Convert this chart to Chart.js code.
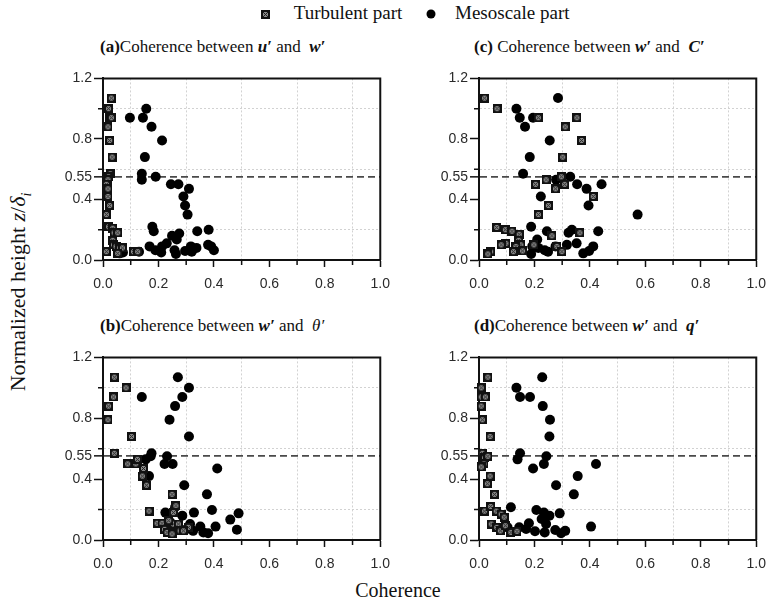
<!DOCTYPE html>
<html>
<head>
<meta charset="utf-8">
<script src="https://cdn.jsdelivr.net/npm/chart.js@4.4.1/dist/chart.umd.min.js"></script>
<style>
  body { margin: 0; background: #fff; }
  #wrap { position: relative; width: 774px; height: 611px; overflow: hidden; font-family: 'Liberation Serif', 'DejaVu Serif', serif; color: #111; }
  canvas.panel { position: absolute; }
  .title { position: absolute; font-size: 17px; white-space: nowrap; }
  .title b.v { font-style: italic; }
  #legend { position: absolute; top: 2px; left: 261px; font-size: 19px; white-space: nowrap; }
  #legend canvas { vertical-align: 0px; }
  #ytitle { position: absolute; left: 20px; top: 292px; transform: translate(-50%, -50%) rotate(-90deg); font-size: 22px; white-space: nowrap; }
  #xtitle { position: absolute; left: 398px; top: 579px; transform: translateX(-50%); font-size: 20px; }
</style>
</head>
<body>
<div id="wrap">
  <div id="legend">
    <canvas id="legSq" width="9" height="9"></canvas>&nbsp;&nbsp;&nbsp;&nbsp;&nbsp;Turbulent part&nbsp;&nbsp;&nbsp;&nbsp;&nbsp;<canvas id="legCi" width="10" height="10"></canvas>&nbsp;&nbsp;&nbsp;&nbsp;Mesoscale part
  </div>
  <div class="title" style="left:100px; top:37px;"><b>(a)</b>Coherence between <b class="v">u′</b> and &nbsp;<b class="v">w′</b></div>
  <div class="title" style="left:474px; top:37px;"><b>(c)</b> Coherence between <b class="v">w′</b> and &nbsp;<b class="v">C′</b></div>
  <div class="title" style="left:100px; top:316px;"><b>(b)</b>Coherence between <b class="v">w′</b> and &nbsp;<i>θ′</i></div>
  <div class="title" style="left:474px; top:316px;"><b>(d)</b>Coherence between <b class="v">w′</b> and &nbsp;<b class="v">q′</b></div>
  <div id="ytitle">Normalized height <i>z</i>/<i>δ<sub style="font-size:14px">i</sub></i></div>
  <div id="xtitle">Coherence</div>
  <canvas class="panel" id="chart-a" width="346" height="224" style="left:53px; top:68px;"></canvas>
  <canvas class="panel" id="chart-c" width="346" height="224" style="left:429px; top:68px;"></canvas>
  <canvas class="panel" id="chart-b" width="346" height="225" style="left:53px; top:347px;"></canvas>
  <canvas class="panel" id="chart-d" width="346" height="225" style="left:429px; top:347px;"></canvas>
</div>
<script>
// tick values
const xTicks = [0, 0.1, 0.2, 0.3, 0.4, 0.5, 0.6, 0.7, 0.8, 0.9, 1.0];
const xTickLabels = ['0.0', '', '0.2', '', '0.4', '', '0.6', '', '0.8', '', '1.0'];
const yTicks = [0, 0.2, 0.4, 0.55, 0.6, 0.8, 1.0, 1.2];
const yTickLabels = ['0.0', '', '0.4', '0.55', '', '0.8', '', '1.2'];
const refHeight = 0.55;

// (a) u' and w'
const turbA = [[0.03,1.07],[0.02,1.0],[0.024,0.94],[0.03,0.94],[0.018,0.88],[0.024,0.79],[0.033,0.68],[0.026,0.57],
  [0.02,0.55],[0.018,0.53],[0.012,0.50],[0.018,0.47],[0.018,0.42],[0.024,0.36],[0.012,0.30],[0.02,0.22],[0.035,0.21],
  [0.04,0.18],[0.053,0.18],[0.035,0.13],[0.038,0.10],[0.047,0.09],[0.06,0.08],[0.07,0.08],[0.012,0.055],[0.053,0.044],
  [0.11,0.055],[0.125,0.055]];
const mesoA = [[0.097,0.94],[0.144,0.94],[0.156,1.0],[0.175,0.88],[0.213,0.79],[0.151,0.68],[0.14,0.57],[0.14,0.53],
  [0.19,0.55],[0.245,0.50],[0.272,0.50],[0.31,0.47],[0.29,0.42],[0.296,0.36],[0.305,0.30],[0.178,0.22],[0.183,0.19],
  [0.249,0.16],[0.275,0.175],[0.266,0.135],[0.34,0.19],[0.381,0.20],[0.23,0.11],[0.213,0.09],[0.168,0.09],[0.189,0.065],
  [0.21,0.05],[0.258,0.065],[0.263,0.04],[0.296,0.06],[0.317,0.09],[0.32,0.055],[0.337,0.08],[0.379,0.10],[0.39,0.09],
  [0.40,0.065],[0.13,0.055],[0.06,0.044],[0.072,0.05]];

// (c) w' and C'
const turbC = [[0.02,1.07],[0.065,1.0],[0.214,0.94],[0.311,0.88],[0.353,0.94],[0.37,0.79],[0.302,0.68],[0.242,0.53],
  [0.297,0.55],[0.204,0.50],[0.309,0.50],[0.276,0.47],[0.25,0.36],[0.214,0.30],[0.412,0.42],[0.064,0.215],[0.095,0.20],
  [0.119,0.19],[0.145,0.17],[0.143,0.13],[0.151,0.10],[0.133,0.09],[0.124,0.055],[0.157,0.06],[0.097,0.11],[0.08,0.10],
  [0.042,0.055],[0.032,0.04],[0.263,0.16],[0.364,0.18],[0.281,0.09],[0.299,0.055],[0.198,0.10]];
const mesoC = [[0.285,1.07],[0.135,1.0],[0.147,0.94],[0.195,0.94],[0.166,0.88],[0.255,0.79],[0.183,0.68],[0.159,0.57],
  [0.278,0.53],[0.329,0.55],[0.354,0.50],[0.388,0.47],[0.442,0.50],[0.223,0.42],[0.395,0.36],[0.572,0.30],[0.188,0.22],
  [0.21,0.135],[0.245,0.19],[0.323,0.18],[0.335,0.20],[0.43,0.19],[0.192,0.09],[0.188,0.04],[0.214,0.08],[0.237,0.065],
  [0.249,0.055],[0.276,0.09],[0.317,0.10],[0.352,0.11],[0.376,0.044],[0.397,0.06],[0.412,0.09]];

// (b) w' and theta'
const turbB = [[0.041,1.07],[0.083,1.0],[0.038,0.94],[0.02,0.88],[0.018,0.79],[0.103,0.68],[0.041,0.57],[0.089,0.50],
  [0.118,0.50],[0.124,0.53],[0.146,0.47],[0.142,0.42],[0.157,0.36],[0.249,0.30],[0.166,0.19],[0.195,0.11],[0.213,0.11],
  [0.222,0.07],[0.231,0.05],[0.249,0.04],[0.254,0.105],[0.272,0.105],[0.278,0.06],[0.263,0.225],[0.254,0.18],[0.237,0.127],
  [0.308,0.083],[0.29,0.06]];
const mesoB = [[0.27,1.07],[0.31,1.0],[0.286,0.94],[0.26,0.88],[0.14,0.94],[0.24,0.79],[0.31,0.68],[0.175,0.57],
  [0.172,0.55],[0.154,0.53],[0.231,0.55],[0.222,0.50],[0.251,0.50],[0.412,0.47],[0.166,0.42],[0.293,0.36],[0.375,0.30],
  [0.225,0.18],[0.26,0.215],[0.286,0.16],[0.328,0.18],[0.393,0.197],[0.459,0.134],[0.489,0.175],[0.483,0.068],[0.406,0.088],
  [0.351,0.088],[0.362,0.05],[0.379,0.044],[0.325,0.06],[0.314,0.105],[0.296,0.066],[0.26,0.083],[0.243,0.116],[0.225,0.094]];

// (d) w' and q'
const turbD = [[0.032,1.07],[0.008,1.0],[0.008,0.94],[0.023,0.94],[0.008,0.88],[0.012,0.79],[0.04,0.68],[0.012,0.57],
  [0.02,0.54],[0.032,0.55],[0.018,0.50],[0.008,0.48],[0.04,0.42],[0.03,0.37],[0.056,0.30],[0.02,0.19],[0.042,0.22],
  [0.062,0.19],[0.08,0.17],[0.091,0.15],[0.044,0.105],[0.064,0.083],[0.077,0.06],[0.095,0.094],[0.115,0.05],[0.137,0.057]];
const mesoD = [[0.228,1.07],[0.135,1.0],[0.148,0.94],[0.184,0.94],[0.23,0.88],[0.256,0.79],[0.254,0.68],[0.148,0.57],
  [0.139,0.53],[0.243,0.55],[0.234,0.50],[0.195,0.47],[0.422,0.50],[0.356,0.42],[0.278,0.36],[0.342,0.30],[0.115,0.215],
  [0.207,0.197],[0.234,0.18],[0.254,0.16],[0.291,0.175],[0.226,0.138],[0.242,0.105],[0.18,0.11],[0.17,0.072],[0.202,0.057],
  [0.237,0.05],[0.275,0.066],[0.296,0.044],[0.311,0.06],[0.404,0.088],[0.103,0.083],[0.145,0.083]];

// hatched square marker used for the turbulent part
function makeSquare() {
    const c = document.createElement('canvas');
    c.width = 9; c.height = 9;
    const g = c.getContext('2d');
    g.fillStyle = '#111';
    g.fillRect(0, 0, 9, 9);
    g.fillStyle = '#8a8a8a';
    g.fillRect(2, 2, 5, 5);
    g.strokeStyle = '#222';
    g.lineWidth = 1;
    g.beginPath();
    g.moveTo(2, 2); g.lineTo(7, 7);
    g.moveTo(7, 2); g.lineTo(2, 7);
    g.stroke();
    return c;
}
const squareImg = makeSquare();

const isMinorY = v => yTickLabels[yTicks.indexOf(v)] === '';
const isMinorX = v => Math.round(v * 10) % 2 === 1;

// top/right frame and short minor ticks
const framePlugin = {
    id: 'frame',
    beforeDatasetsDraw(chart) {
        const { ctx, chartArea: a, scales: { x, y } } = chart;
        ctx.save();
        ctx.strokeStyle = '#111';
        ctx.lineWidth = 2;
        ctx.beginPath();
        ctx.moveTo(a.left, a.top); ctx.lineTo(a.right, a.top); ctx.lineTo(a.right, a.bottom);
        ctx.stroke();
        ctx.lineWidth = 1.5;
        ctx.beginPath();
        xTicks.forEach(v => {
            if (!isMinorX(v)) return;
            const px = x.getPixelForValue(v);
            ctx.moveTo(px, a.bottom); ctx.lineTo(px, a.bottom + 5);
        });
        yTicks.forEach(v => {
            if (!isMinorY(v)) return;
            const py = y.getPixelForValue(v);
            ctx.moveTo(a.left, py); ctx.lineTo(a.left - 5, py);
        });
        ctx.stroke();
        ctx.restore();
    }
};

function initChart(id, turb, meso) {
    const ctx = document.getElementById(id).getContext('2d');
    return new Chart(ctx, {
        type: 'scatter',
        data: {
            datasets: [
                { label: 'Turbulent part', data: turb.map(p => ({ x: p[0], y: p[1] })), pointStyle: squareImg, clip: false },
                { label: 'Mesoscale part', data: meso.map(p => ({ x: p[0], y: p[1] })), pointStyle: 'circle', pointRadius: 5,
                  backgroundColor: '#000', borderWidth: 0, clip: false }
            ]
        },
        options: {
            responsive: false,
            animation: false,
            devicePixelRatio: 1,
            layout: { padding: { top: 10, right: 14, left: 0, bottom: 0 } },
            plugins: { legend: { display: false }, tooltip: { enabled: false } },
            scales: {
                x: {
                    type: 'linear', min: 0, max: 1,
                    afterBuildTicks: s => { s.ticks = xTicks.map(v => ({ value: v })); },
                    afterFit: s => { s.height = 32; },
                    ticks: {
                        autoSkip: false, maxRotation: 0, padding: 9, color: '#2a2a2a',
                        font: { family: 'Liberation Sans', size: 14 },
                        callback: (v, i) => xTickLabels[i]
                    },
                    grid: {
                        color: c => (c.tick && isMinorX(c.tick.value)) ? '#d2d2d2' : 'rgba(0,0,0,0)',
                        tickColor: c => (c.tick && isMinorX(c.tick.value)) ? 'rgba(0,0,0,0)' : '#111',
                        tickLength: 7, tickWidth: 1.5, lineWidth: 1
                    },
                    border: { color: '#111', width: 2, dash: [2, 2] }
                },
                y: {
                    type: 'linear', min: 0, max: 1.2,
                    afterBuildTicks: s => { s.ticks = yTicks.map(v => ({ value: v })); },
                    afterFit: s => { s.width = 50; },
                    ticks: {
                        autoSkip: false, padding: 2, color: '#2a2a2a',
                        font: { family: 'Liberation Sans', size: 14 },
                        callback: (v, i) => yTickLabels[i]
                    },
                    grid: {
                        color: c => {
                            if (!c.tick) return 'rgba(0,0,0,0)';
                            if (c.tick.value === refHeight) return '#4a4a4a';
                            return isMinorY(c.tick.value) ? '#d2d2d2' : 'rgba(0,0,0,0)';
                        },
                        lineWidth: c => (c.tick && c.tick.value === refHeight) ? 1.7 : 1,
                        tickColor: c => (c.tick && isMinorY(c.tick.value)) ? 'rgba(0,0,0,0)' : '#111',
                        tickLength: 9, tickWidth: 1.5
                    },
                    border: {
                        color: '#111', width: 2,
                        dash: c => (c.tick && c.tick.value === refHeight) ? [7, 4] : [2, 2]
                    }
                }
            }
        },
        plugins: [framePlugin]
    });
}

document.addEventListener('DOMContentLoaded', () => {
    initChart('chart-a', turbA, mesoA);
    initChart('chart-c', turbC, mesoC);
    initChart('chart-b', turbB, mesoB);
    initChart('chart-d', turbD, mesoD);

    document.getElementById('legSq').getContext('2d').drawImage(squareImg, 0, 0);
    const lc = document.getElementById('legCi').getContext('2d');
    lc.fillStyle = '#000';
    lc.beginPath(); lc.arc(5, 5, 4.5, 0, Math.PI * 2); lc.fill();
});
</script>
</body>
</html>
